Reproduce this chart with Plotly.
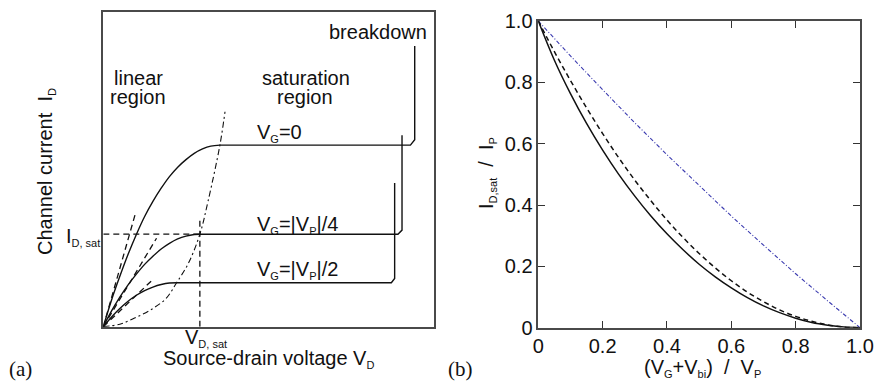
import plotly.graph_objects as go

# ---------------- panel (a): JFET output characteristics (schematic) ----------------
# normalised drain voltage / drain current
vg0_v = [0, 0.025, 0.05, 0.075, 0.1, 0.125, 0.15, 0.175, 0.2, 0.225, 0.25, 0.275, 0.3, 0.325, 0.3526]
vg0_i = [0, 0.085, 0.16, 0.23, 0.293, 0.35, 0.398, 0.44, 0.477, 0.507, 0.531, 0.551, 0.565, 0.574, 0.577]
vg4_v = [0, 0.025, 0.05, 0.075, 0.1, 0.125, 0.15, 0.175, 0.2, 0.225, 0.25, 0.275, 0.292]
vg4_i = [0, 0.05, 0.094, 0.133, 0.167, 0.198, 0.224, 0.247, 0.265, 0.279, 0.288, 0.293, 0.294]
vg2_v = [0, 0.025, 0.05, 0.075, 0.1, 0.125, 0.15, 0.175, 0.2, 0.2217]
vg2_i = [0, 0.031, 0.058, 0.081, 0.1, 0.115, 0.126, 0.134, 0.1388, 0.1397]

# saturation plateau followed by the breakdown rise
sat0_v = [0.3526, 0.9287, 0.9417, 0.9417]
sat0_i = [0.577, 0.577, 0.594, 0.892]
sat4_v = [0.292, 0.891, 0.9033, 0.9033]
sat4_i = [0.294, 0.294, 0.307, 0.6086]
sat2_v = [0.2217, 0.871, 0.881, 0.881]
sat2_i = [0.1397, 0.1397, 0.153, 0.457]

# initial-slope tangents at the origin
tan_v = [[0, 0.0958], [0, 0.161], [0, 0.151]]
tan_i = [[0, 0.355], [0, 0.281], [0, 0.151]]

# locus of the saturation points V_D,sat(V_G)
locus_v = [0, 0.05, 0.1, 0.15, 0.19, 0.2217, 0.258, 0.292, 0.317, 0.3526, 0.368]
locus_i = [0, 0.008, 0.03, 0.058, 0.09, 0.1397, 0.203, 0.294, 0.40, 0.577, 0.683]

# I_D,sat / V_D,sat guide lines
idsat_v = [0, 0.292]
idsat_i = [0.294, 0.294]
vdsat_v = [0.292, 0.292]
vdsat_i = [0, 0.349]

# ---------------- panel (b): normalised saturation current ----------------
u = [0, 0.05, 0.1, 0.15, 0.2, 0.25, 0.3, 0.35, 0.4, 0.45, 0.5,
     0.55, 0.6, 0.65, 0.7, 0.75, 0.8, 0.85, 0.9, 0.95, 1.0]
isat_full = [1.0, 0.872, 0.763, 0.666, 0.579, 0.500, 0.429, 0.364, 0.306, 0.254, 0.207,
             0.166, 0.130, 0.098, 0.071, 0.049, 0.031, 0.017, 0.008, 0.002, 0.0]
isat_square = [1.0, 0.900, 0.806, 0.717, 0.633, 0.554, 0.481, 0.414, 0.351, 0.294, 0.242,
               0.195, 0.153, 0.116, 0.085, 0.058, 0.037, 0.021, 0.009, 0.002, 0.0]
u_lin = [0, 0.1, 0.2, 0.3, 0.4, 0.5, 0.6, 0.7, 0.8, 0.9, 1.0]
isat_lin = [1.0, 0.886, 0.776, 0.668, 0.564, 0.463, 0.364, 0.269, 0.176, 0.087, 0.0]

tick_vals = [0, 0.2, 0.4, 0.6, 0.8, 1.0]
tick_text = ["0", "0.2", "0.4", "0.6", "0.8", "1.0"]

W, H = 875, 382
FONT = "Liberation Sans, Arial, sans-serif"
INK = "#111111"
FRAME = "#4a4a4a"


def px(x):
    return x / W


def py(y):
    return 1 - y / H


def sub(s):
    return "<sub><span style='font-size:11px'>" + s + "</span></sub>"


fig = go.Figure()

solid = dict(color=INK, width=1.4)
dashed = dict(color=INK, width=1.3, dash="6px,4px")
dashdot = dict(color=INK, width=1.1, dash="6px,3px,2px,3px")

for xv, yv in [(vg0_v, vg0_i), (vg4_v, vg4_i), (vg2_v, vg2_i)]:
    fig.add_trace(go.Scatter(x=xv, y=yv, mode="lines", line=dict(shape="spline", **solid),
                             xaxis="x", yaxis="y", hoverinfo="skip"))
for xv, yv in [(sat0_v, sat0_i), (sat4_v, sat4_i), (sat2_v, sat2_i)]:
    fig.add_trace(go.Scatter(x=xv, y=yv, mode="lines", line=solid,
                             xaxis="x", yaxis="y", hoverinfo="skip"))
for xv, yv in zip(tan_v, tan_i):
    fig.add_trace(go.Scatter(x=xv, y=yv, mode="lines", line=dashed,
                             xaxis="x", yaxis="y", hoverinfo="skip"))
fig.add_trace(go.Scatter(x=locus_v, y=locus_i, mode="lines",
                         line=dict(shape="spline", **dashdot),
                         xaxis="x", yaxis="y", hoverinfo="skip"))
fig.add_trace(go.Scatter(x=idsat_v, y=idsat_i, mode="lines", line=dashed,
                         xaxis="x", yaxis="y", hoverinfo="skip"))
fig.add_trace(go.Scatter(x=vdsat_v, y=vdsat_i, mode="lines", line=dashed,
                         xaxis="x", yaxis="y", hoverinfo="skip"))

# panel (b) curves
fig.add_trace(go.Scatter(x=u_lin, y=isat_lin, mode="lines",
                         line=dict(color="#3c3cb0", width=1.1, dash="4px,2px,1px,2px"),
                         xaxis="x2", yaxis="y2", hoverinfo="skip"))
fig.add_trace(go.Scatter(x=u, y=isat_square, mode="lines",
                         line=dict(color=INK, width=1.5, dash="5px,3.5px", shape="spline"),
                         xaxis="x2", yaxis="y2", hoverinfo="skip"))
fig.add_trace(go.Scatter(x=u, y=isat_full, mode="lines",
                         line=dict(color=INK, width=1.5, shape="spline"),
                         xaxis="x2", yaxis="y2", hoverinfo="skip"))

frame_a = dict(showline=True, linecolor=FRAME, linewidth=1.5, mirror=True,
               showgrid=False, zeroline=False, showticklabels=False, ticks="",
               range=[0, 1], fixedrange=True, automargin=False)
frame_b = dict(showline=True, linecolor=FRAME, linewidth=1.5, mirror="ticks",
               showgrid=False, zeroline=False, ticks="inside", ticklen=7,
               tickwidth=1.3, tickcolor="#333333", tickvals=tick_vals, ticktext=tick_text,
               tickfont=dict(family=FONT, size=20, color=INK), range=[0, 1],
               fixedrange=True, automargin=False)

fig.update_layout(
    width=W, height=H, margin=dict(l=0, r=0, t=0, b=0, autoexpand=False),
    paper_bgcolor="white", plot_bgcolor="white", showlegend=False,
    font=dict(family=FONT, size=20, color=INK),
    xaxis=dict(domain=[px(103.3), px(434)], anchor="y", **frame_a),
    yaxis=dict(domain=[py(326.7), py(12)], anchor="x", **frame_a),
    xaxis2=dict(domain=[px(538.3), px(860)], anchor="y2", **frame_b),
    yaxis2=dict(domain=[py(327.7), py(21)], anchor="x2", **frame_b),
)

notes = [
    ("breakdown", 378, 32, "center", 0),
    ("linear", 138, 78, "center", 0),
    ("region", 138, 97, "center", 0),
    ("saturation", 306, 78, "center", 0),
    ("region", 305, 97, "center", 0),
    ("V" + sub("G") + "=0", 255, 133, "left", 0),
    ("V" + sub("G") + "=|V" + sub("P") + "|/4", 255, 225, "left", 0),
    ("V" + sub("G") + "=|V" + sub("P") + "|/2", 255, 270, "left", 0),
    ("I" + sub("D, sat"), 102, 237, "right", 0),
    ("V" + sub("D, sat"), 183, 338, "left", 0),
    ("Source-drain voltage V" + sub("D"), 268, 359, "center", 0),
    ("Channel current  I" + sub("D"), 46, 172, "center", -90),
    ("(V" + sub("G") + "+V" + sub("bi") + ")  /  V" + sub("P"), 702, 368, "center", 0),
    ("I" + sub("D,sat") + "  /  I" + sub("P"), 487, 173, "center", -90),
]
for text, x, y, xa, ang in notes:
    fig.add_annotation(text=text, x=px(x), y=py(y), xref="paper", yref="paper",
                       xanchor=xa, yanchor="middle", showarrow=False, textangle=ang,
                       font=dict(family=FONT, size=20, color=INK))

for text, x in [("(a)", 20), ("(b)", 461)]:
    fig.add_annotation(text=text, x=px(x), y=py(369), xref="paper", yref="paper",
                       xanchor="center", yanchor="middle", showarrow=False,
                       font=dict(family="Liberation Serif, DejaVu Serif, serif", size=21,
                                 color=INK))

fig.write_html("out.html")
